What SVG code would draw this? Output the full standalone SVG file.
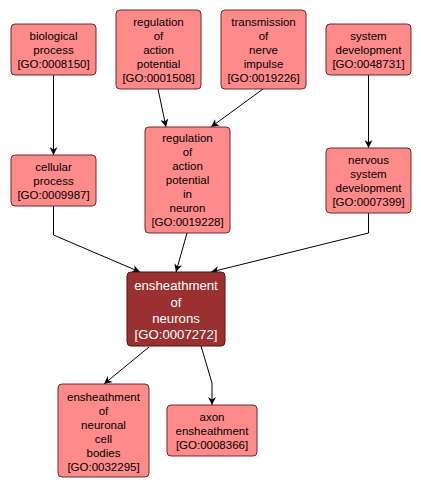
<svg xmlns="http://www.w3.org/2000/svg" width="421" height="490" viewBox="0 0 421 490">
<defs>
<style>
.n rect{fill:#ff8a8a;stroke:#6b2a2a;stroke-width:1}
.n text{font-family:"Liberation Sans",Arial,sans-serif;font-size:11.5px;fill:#000;text-anchor:middle}
.m rect{fill:#9b3030;stroke:#4a1515;stroke-width:1}
.m text{font-family:"Liberation Sans",Arial,sans-serif;font-size:13.2px;fill:#fff;text-anchor:middle}
.e{fill:none;stroke:#000;stroke-width:1;marker-end:url(#a)}
</style>
<marker id="a" viewBox="0 0 10 10" refX="10" refY="5" markerWidth="8" markerHeight="8" markerUnits="userSpaceOnUse" orient="auto">
<path d="M0,0 L10,5 L0,10 L3,5 z" fill="#000"/>
</marker>
</defs>
<rect width="421" height="490" fill="#fff"/>
<g id="edges">
<path class="e" d="M53.5,75 L53.5,155"/>
<path class="e" d="M158,89 L166,127"/>
<path class="e" d="M263,89 L211,127"/>
<path class="e" d="M368.5,75 L368.5,148"/>
<path class="e" d="M53.5,206 L53.5,235 L140,272"/>
<path class="e" d="M187,233 L176,272"/>
<path class="e" d="M368.5,213 L368.5,233 L211,272"/>
<path class="e" d="M149,347 L104,384"/>
<path class="e" d="M201,346 L212,383 L212,405"/>
</g>
<g id="n8150" class="n"><rect x="11" y="24" width="85" height="51" rx="4"/>
<text x="53.5" y="39.5">biological</text><text x="53.5" y="53.5">process</text><text x="53.5" y="67.5">[GO:0008150]</text></g>
<g id="n1508" class="n"><rect x="116" y="10" width="85" height="79" rx="4"/>
<text x="158.5" y="25.5">regulation</text><text x="158.5" y="39.5">of</text><text x="158.5" y="53.5">action</text><text x="158.5" y="67.5">potential</text><text x="158.5" y="81.5">[GO:0001508]</text></g>
<g id="n19226" class="n"><rect x="221" y="10" width="85" height="79" rx="4"/>
<text x="263.5" y="25.5">transmission</text><text x="263.5" y="39.5">of</text><text x="263.5" y="53.5">nerve</text><text x="263.5" y="67.5">impulse</text><text x="263.5" y="81.5">[GO:0019226]</text></g>
<g id="n48731" class="n"><rect x="326" y="24" width="85" height="51" rx="4"/>
<text x="368.5" y="39.5">system</text><text x="368.5" y="53.5">development</text><text x="368.5" y="67.5">[GO:0048731]</text></g>
<g id="n9987" class="n"><rect x="11" y="155" width="85" height="51" rx="4"/>
<text x="53.5" y="170.5">cellular</text><text x="53.5" y="184.5">process</text><text x="53.5" y="198.5">[GO:0009987]</text></g>
<g id="n19228" class="n"><rect x="145" y="127" width="85" height="106" rx="4"/>
<text x="187.5" y="142">regulation</text><text x="187.5" y="156">of</text><text x="187.5" y="170">action</text><text x="187.5" y="184">potential</text><text x="187.5" y="198">in</text><text x="187.5" y="212">neuron</text><text x="187.5" y="226">[GO:0019228]</text></g>
<g id="n7399" class="n"><rect x="326" y="148" width="85" height="65" rx="4"/>
<text x="368.5" y="164">nervous</text><text x="368.5" y="178">system</text><text x="368.5" y="192">development</text><text x="368.5" y="206">[GO:0007399]</text></g>
<g id="n7272" class="m"><rect x="127" y="272" width="98" height="74" rx="4"/>
<text x="176" y="290">ensheathment</text><text x="176" y="306.5">of</text><text x="176" y="323">neurons</text><text x="176" y="339">[GO:0007272]</text></g>
<g id="n32295" class="n"><rect x="58" y="384" width="91" height="93" rx="4"/>
<text x="103.5" y="400.5">ensheathment</text><text x="103.5" y="414.5">of</text><text x="103.5" y="428.5">neuronal</text><text x="103.5" y="442.5">cell</text><text x="103.5" y="456.5">bodies</text><text x="103.5" y="470.5">[GO:0032295]</text></g>
<g id="n8366" class="n"><rect x="167" y="405" width="90" height="51" rx="4"/>
<text x="212" y="420.5">axon</text><text x="212" y="434.5">ensheathment</text><text x="212" y="448.5">[GO:0008366]</text></g>
</svg>
